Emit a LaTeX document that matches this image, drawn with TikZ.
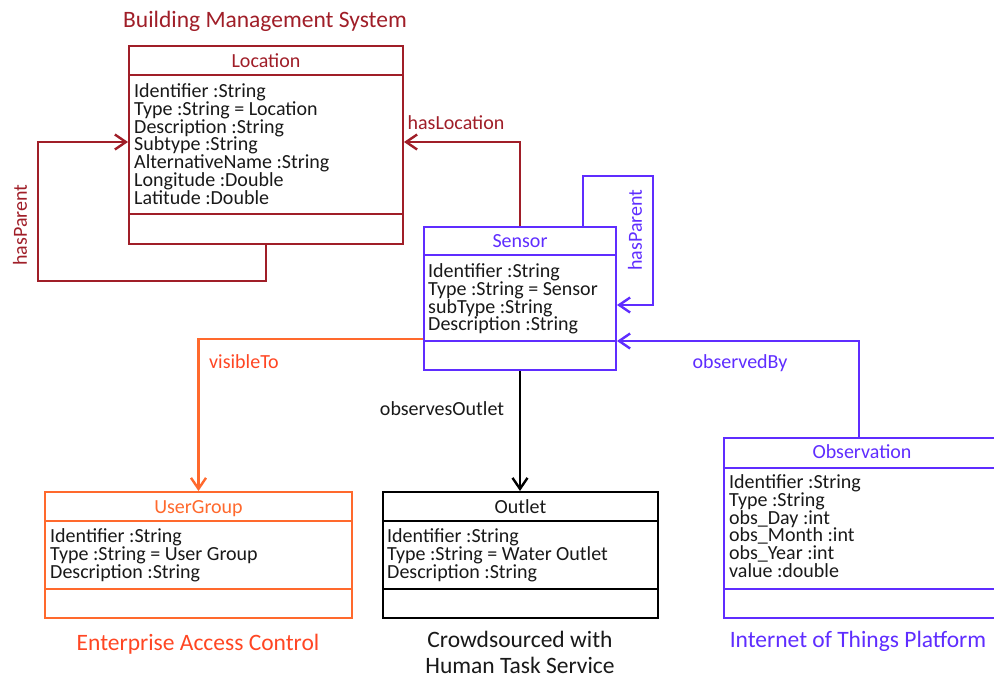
\documentclass[tikz,border=0pt]{standalone}
\usepackage{fontspec}
\setmainfont{Carlito}
\usetikzlibrary{arrows.meta,calc}
\definecolor{bms}{RGB}{160,30,40}
\definecolor{iot}{RGB}{95,45,255}
\definecolor{eacline}{RGB}{255,105,45}
\definecolor{eactext}{RGB}{255,70,35}
\definecolor{txt}{RGB}{25,25,25}
% #1 box, #2 x offset, #3 first baseline offset, #4 lines
\newcommand\umlattrs[4]{%
  \node[attr] (#1-attrs) at ($(#1.north west)+(#2,{#3-16})$) {\rule{0pt}{16pt}#4};}
\begin{document}
\begin{tikzpicture}[x=1pt,y=-1pt,
  classbox/.style={draw, line width=2pt, inner sep=0pt, anchor=north west},
  sepline/.style={line width=1.6pt},
  ctitle/.style={font=\fontsize{20}{24}\selectfont, anchor=base, inner sep=0pt},
  attr/.style={font={\fontsize{20}{17.9}\selectfont\lineskiplimit=-100pt\lineskip=0pt}, text=txt, anchor=north west, align=left, inner sep=0pt},
  grouptitle/.style={font=\fontsize{23.5}{26}\selectfont, anchor=base, inner sep=0pt},
  conn/.style={line width=2.4pt, -{Straight Barb[length=11pt,width=15pt]}},
  clabel/.style={font=\fontsize{20}{24}\selectfont, inner sep=0pt},
]
\useasboundingbox (0,0) rectangle (994,678);
\clip (0,0) rectangle (994,678);
\fill[white] (0,0) rectangle (994,678);

% ---------- Location ----------
\node[classbox, draw=bms, minimum width=274pt, minimum height=198pt] (loc) at (128,45) {};
\draw[sepline, bms] ($(loc.north west)+(0,30)$) -- ($(loc.north east)+(0,30)$);
\draw[sepline, bms] ($(loc.north west)+(0,169)$) -- ($(loc.north east)+(0,169)$);
\node[ctitle, text=bms] (loc-t) at ($(loc.north)+(0,22)$) {Location};
\umlattrs{loc}{6}{52}{Identifier :String\\Type :String = Location\\Description :String\\Subtype :String\\AlternativeName :String\\Longitude :Double\\Latitude :Double}

% ---------- Sensor ----------
\node[classbox, draw=iot, minimum width=192pt, minimum height=143pt] (sen) at (423,226) {};
\draw[sepline, iot] ($(sen.north west)+(0,29)$) -- ($(sen.north east)+(0,29)$);
\draw[sepline, iot] ($(sen.north west)+(0,115)$) -- ($(sen.north east)+(0,115)$);
\node[ctitle, text=iot] (sen-t) at ($(sen.north)+(0,21)$) {Sensor};
\umlattrs{sen}{5}{51}{Identifier :String\\Type :String = Sensor\\subType :String\\Description :String}

% ---------- UserGroup ----------
\node[classbox, draw=eacline, minimum width=307pt, minimum height=126pt] (ug) at (44,491) {};
\draw[sepline, eacline] ($(ug.north west)+(0,30)$) -- ($(ug.north east)+(0,30)$);
\draw[sepline, eacline] ($(ug.north west)+(0,98)$) -- ($(ug.north east)+(0,98)$);
\node[ctitle, text=eacline] (ug-t) at ($(ug.north)+(0,22)$) {UserGroup};
\umlattrs{ug}{6}{51}{Identifier :String\\Type :String = User Group\\Description :String}

% ---------- Outlet ----------
\node[classbox, draw=black, minimum width=275pt, minimum height=126pt] (out) at (382,491) {};
\draw[sepline, black] ($(out.north west)+(0,30)$) -- ($(out.north east)+(0,30)$);
\draw[sepline, black] ($(out.north west)+(0,98)$) -- ($(out.north east)+(0,98)$);
\node[ctitle, text=txt] (out-t) at ($(out.north)+(0,22)$) {Outlet};
\umlattrs{out}{5}{51}{Identifier :String\\Type :String = Water Outlet\\Description :String}

% ---------- Observation ----------
\node[classbox, draw=iot, minimum width=276pt, minimum height=180pt] (obs) at (723,437) {};
\draw[sepline, iot] ($(obs.north west)+(0,31)$) -- ($(obs.north east)+(0,31)$);
\draw[sepline, iot] ($(obs.north west)+(0,152)$) -- ($(obs.north east)+(0,152)$);
\node[ctitle, text=iot] (obs-t) at ($(obs.north)+(0,21)$) {Observation};
\umlattrs{obs}{6}{51}{Identifier :String\\Type :String\\obs\_Day :int\\obs\_Month :int\\obs\_Year :int\\value :double}

% ---------- group titles ----------
\node[grouptitle, text=bms] (g-bms) at (265,27) {Building Management System};
\node[grouptitle, text=eactext] (g-eac) at (198,650) {Enterprise Access Control};
\node[grouptitle, text=txt] (g-crowd1) at (520,647) {Crowdsourced with};
\node[grouptitle, text=txt] (g-crowd2) at (520,673) {Human Task Service};
\node[grouptitle, text=iot] (g-iot) at (858,647) {Internet of Things Platform};

% ---------- connectors ----------
\coordinate (lp1) at (38,281);
\coordinate (lp2) at (38,142);
\draw[conn, bms] (loc.south) |- (lp1) -- (lp2) -- (loc.west |- lp2);
\node[clabel, text=bms, rotate=90] (l-lp) at (20,225) {hasParent};

\coordinate (hl) at (519,142);
\draw[conn, bms] (sen.north) |- (loc.east |- hl);
\node[clabel, text=bms] (l-hl) at (456,123) {hasLocation};

\coordinate (sp1) at (583,176);
\coordinate (sp2) at (653,305);
\draw[conn, iot] (sen.north -| sp1) -- (sp1) -| (sp2) -- (sen.east |- sp2);
\node[clabel, text=iot, rotate=90] (l-sp) at (635,230) {hasParent};

\coordinate (vt) at (423,339);
\draw[conn, eacline] (sen.west |- vt) -| (ug.north);
\node[clabel, text=eactext] (l-vt) at (244,362) {visibleTo};

\draw[conn, black] (sen.south) -- (sen.south |- out.north);
\node[clabel, text=txt] (l-oo) at (442,409) {observesOutlet};

\coordinate (ob) at (859,341);
\draw[conn, iot] (obs.north -| ob) |- (sen.east |- ob);
\node[clabel, text=iot] (l-ob) at (740,363) {observedBy};
\end{tikzpicture}
\end{document}
